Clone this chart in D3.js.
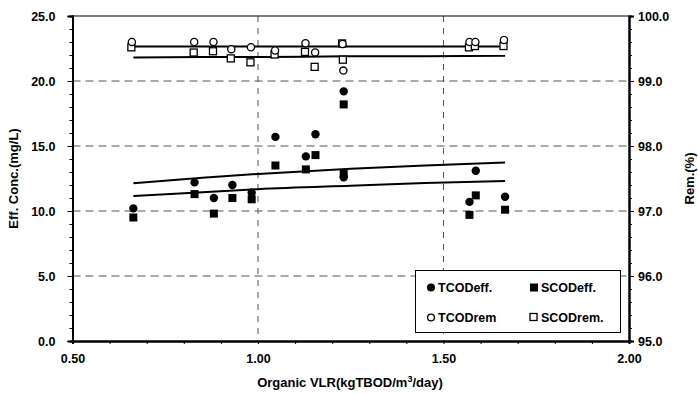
<!DOCTYPE html>
<html>
<head>
<meta charset="utf-8">
<script src="https://cdn.jsdelivr.net/npm/d3@7"></script>
<style>
  body { margin: 0; background: #fff; }
  svg { font-family: "Liberation Sans", Arial, sans-serif; font-weight: bold; }
</style>
</head>
<body>
<div id="chart"></div>
<script>
// organic loading rate for each run (kgTBOD/m3/day)
var vlrEff = [0.664, 0.829, 0.881, 0.931, 0.983, 1.047, 1.129, 1.155, 1.231, 1.231, 1.570, 1.587, 1.666];
var tcodEff = [10.2, 12.2, 11.0, 12.0, 11.4, 15.7, 14.2, 15.9, 19.2, 12.6, 10.7, 13.1, 11.1];
var scodEff = [9.5, 11.3, 9.8, 11.0, 10.9, 13.5, 13.2, 14.3, 18.2, 12.9, 9.7, 11.2, 10.1];

var vlrRem = [0.660, 0.828, 0.880, 0.928, 0.981, 1.046, 1.128, 1.154, 1.228, 1.230, 1.570, 1.586, 1.663];
var tcodRem = [99.60, 99.60, 99.60, 99.49, 99.52, 99.47, 99.58, 99.44, 99.57, 99.16, 99.60, 99.60, 99.63];
var scodRem = [99.51, 99.43, 99.45, 99.34, 99.28, 99.40, 99.44, 99.21, 99.57, 99.32, 99.51, 99.53, 99.53];

// trend lines
var trendX = [0.664, 0.85, 1.0, 1.25, 1.45, 1.666];
var tcodEffTrend = [12.13, 12.55, 12.85, 13.25, 13.5, 13.74];
var scodEffTrend = [11.15, 11.45, 11.68, 11.95, 12.15, 12.31];
var tcodRemTrend = [99.53, 99.53, 99.53, 99.53, 99.53, 99.53];
var scodRemTrend = [99.36, 99.37, 99.37, 99.38, 99.38, 99.39];

var xTicks = [0.5, 1.0, 1.5, 2.0];
var leftTicks = [0, 5, 10, 15, 20, 25];
var rightTicks = [95, 96, 97, 98, 99, 100];

var width = 698, height = 394;
var margin = { top: 16, left: 72.5, right: 69, bottom: 53 };

var svg = d3.select("#chart").append("svg")
    .attr("width", width)
    .attr("height", height);

var x = d3.scaleLinear().domain([0.5, 2.0]).range([margin.left, width - margin.right]);
var yL = d3.scaleLinear().domain([0, 25]).range([height - margin.bottom, margin.top]);
var yR = d3.scaleLinear().domain([95, 100]).range([height - margin.bottom, margin.top]);

var x0 = margin.left, x1 = width - margin.right;
var yTop = margin.top, yBot = height - margin.bottom;

// grid
svg.append("g").selectAll("line")
    .data([5, 10, 15, 20])
    .enter().append("line")
    .attr("x1", x0).attr("x2", x1)
    .attr("y1", function(d) { return yL(d); })
    .attr("y2", function(d) { return yL(d); })
    .attr("stroke", "#555")
    .attr("stroke-width", 1)
    .attr("stroke-dasharray", "8,5");

svg.append("g").selectAll("line")
    .data([1.0, 1.5])
    .enter().append("line")
    .attr("x1", function(d) { return x(d); })
    .attr("x2", function(d) { return x(d); })
    .attr("y1", yTop).attr("y2", yBot)
    .attr("stroke", "#555")
    .attr("stroke-width", 1)
    .attr("stroke-dasharray", "6,6");

// frame top
svg.append("line")
    .attr("x1", x0).attr("x2", x1).attr("y1", yTop).attr("y2", yTop)
    .attr("stroke", "#000").attr("stroke-width", 1.2);

// axes
var bottomAxis = svg.append("g")
    .attr("transform", "translate(0," + yBot + ")")
    .call(d3.axisBottom(x).tickValues(d3.range(0.5, 2.001, 0.1)).tickSize(3).tickFormat(""));
var bottomLabels = svg.append("g")
    .attr("transform", "translate(0," + yBot + ")")
    .call(d3.axisBottom(x).tickValues(xTicks).tickSize(0).tickPadding(13).tickFormat(d3.format(".2f")));

var leftAxis = svg.append("g")
    .attr("transform", "translate(" + x0 + ",0)")
    .call(d3.axisLeft(yL).tickValues(d3.range(0, 25.01, 1)).tickSize(3).tickFormat(""));
var leftLabels = svg.append("g")
    .attr("transform", "translate(" + x0 + ",0)")
    .call(d3.axisLeft(yL).tickValues(leftTicks).tickSize(5).tickPadding(12).tickFormat(d3.format(".1f")));

var rightAxis = svg.append("g")
    .attr("transform", "translate(" + x1 + ",0)")
    .call(d3.axisRight(yR).tickValues(d3.range(95, 100.01, 0.2)).tickSize(3).tickFormat(""));
var rightLabels = svg.append("g")
    .attr("transform", "translate(" + x1 + ",0)")
    .call(d3.axisRight(yR).tickValues(rightTicks).tickSize(5).tickPadding(4).tickFormat(d3.format(".1f")));

[bottomAxis, bottomLabels, leftAxis, leftLabels, rightAxis, rightLabels].forEach(function(g) {
    g.select(".domain").attr("stroke", "#000").attr("stroke-width", 2);
    g.selectAll(".tick line").attr("stroke", "#000");
    g.selectAll("text")
        .attr("fill", "#000")
        .style("font-size", "12.5px")
        .style("font-weight", "bold")
        .style("font-family", "'Liberation Sans', Arial, sans-serif");
});

// trend lines
function trend(scale, vals) {
    return d3.line()
        .x(function(d, i) { return x(trendX[i]); })
        .y(function(d) { return scale(d); })
        .curve(d3.curveMonotoneX)(vals);
}
[[yL, tcodEffTrend], [yL, scodEffTrend], [yR, tcodRemTrend], [yR, scodRemTrend]].forEach(function(t) {
    svg.append("path")
        .attr("d", trend(t[0], t[1]))
        .attr("fill", "none")
        .attr("stroke", "#000")
        .attr("stroke-width", 2);
});

// markers
var r = 4.2, s = 8;
function circles(xs, ys, scale, filled) {
    svg.append("g").selectAll("circle")
        .data(ys)
        .enter().append("circle")
        .attr("cx", function(d, i) { return x(xs[i]); })
        .attr("cy", function(d) { return scale(d); })
        .attr("r", filled ? r : r - 0.6)
        .attr("fill", filled ? "#000" : "#fff")
        .attr("stroke", "#000")
        .attr("stroke-width", filled ? 0 : 1.3);
}
function squares(xs, ys, scale, filled) {
    svg.append("g").selectAll("rect")
        .data(ys)
        .enter().append("rect")
        .attr("x", function(d, i) { return x(xs[i]) - s / 2; })
        .attr("y", function(d) { return scale(d) - s / 2; })
        .attr("width", filled ? s : s - 1)
        .attr("height", filled ? s : s - 1)
        .attr("fill", filled ? "#000" : "#fff")
        .attr("stroke", "#000")
        .attr("stroke-width", filled ? 0 : 1.3);
}
squares(vlrRem, scodRem, yR, false);
circles(vlrRem, tcodRem, yR, false);
squares(vlrEff, scodEff, yL, true);
circles(vlrEff, tcodEff, yL, true);

// legend
var legend = svg.append("g");
legend.append("rect")
    .attr("x", 415.5).attr("y", 270.5)
    .attr("width", 205).attr("height", 62)
    .attr("fill", "#fff")
    .attr("stroke", "#000")
    .attr("stroke-width", 1);

var legendItems = [
    { label: "TCODeff.", shape: "circle", filled: true, col: 0, row: 0 },
    { label: "SCODeff.", shape: "square", filled: true, col: 1, row: 0 },
    { label: "TCODrem", shape: "circle", filled: false, col: 0, row: 1 },
    { label: "SCODrem.", shape: "square", filled: false, col: 1, row: 1 }
];
legendItems.forEach(function(d) {
    var lx = 431 + d.col * 103, ly = 287.5 + d.row * 30;
    if (d.shape === "circle") {
        legend.append("circle")
            .attr("cx", lx).attr("cy", ly)
            .attr("r", d.filled ? 4 : 3.4)
            .attr("fill", d.filled ? "#000" : "#fff")
            .attr("stroke", "#000")
            .attr("stroke-width", d.filled ? 0 : 1.3);
    } else {
        legend.append("rect")
            .attr("x", lx - 4).attr("y", ly - 4)
            .attr("width", d.filled ? 8 : 7).attr("height", d.filled ? 8 : 7)
            .attr("fill", d.filled ? "#000" : "#fff")
            .attr("stroke", "#000")
            .attr("stroke-width", d.filled ? 0 : 1.3);
    }
    legend.append("text")
        .attr("x", lx + 7).attr("y", ly + 4.5)
        .style("font-size", "12.5px")
        .text(d.label);
});

// axis titles
svg.append("text")
    .attr("transform", "translate(18," + ((yTop + yBot) / 2) + ") rotate(-90)")
    .attr("text-anchor", "middle")
    .style("font-size", "13px")
    .text("Eff. Conc.(mg/L)");

svg.append("text")
    .attr("transform", "translate(694," + ((yTop + yBot) / 2) + ") rotate(-90)")
    .attr("text-anchor", "middle")
    .style("font-size", "13px")
    .text("Rem.(%)");

var xt = svg.append("text")
    .attr("x", 350).attr("y", 387)
    .attr("text-anchor", "middle")
    .style("font-size", "13px");
xt.append("tspan").text("Organic VLR(kgTBOD/m");
xt.append("tspan").attr("dy", -5).style("font-size", "9px").text("3");
xt.append("tspan").attr("dy", 5).text("/day)");
</script>
</body>
</html>
